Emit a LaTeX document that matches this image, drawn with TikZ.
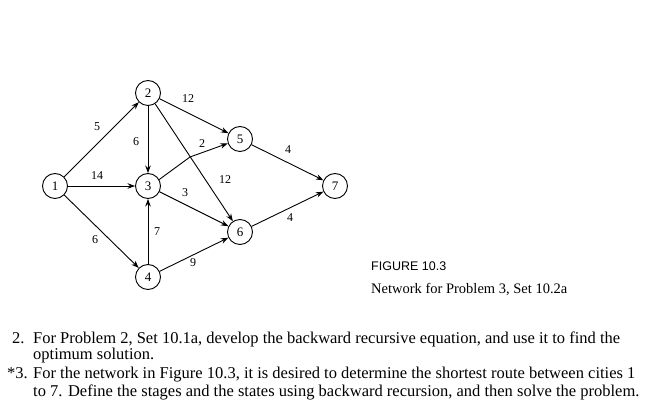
\documentclass[tikz,border=0pt]{standalone}
\usepackage{fontspec}
\setmainfont{Liberation Serif}
\newfontfamily\capsans{Liberation Sans}
\usetikzlibrary{arrows.meta}
\tikzset{
  vertex/.style={circle, draw, line width=0.9pt, minimum size=25pt, inner sep=0pt, font=\fontsize{13}{13}\selectfont},
  arc/.style={-{Stealth[length=7.5pt,width=5.5pt]}, line width=0.9pt},
  wlabel/.style={inner sep=0pt, font=\fontsize{12}{12}\selectfont},
  bodytext/.style={anchor=base west, inner sep=0pt, font=\fontsize{16.5}{16.5}\selectfont},
}
\begin{document}
\begin{tikzpicture}[x=1pt, y=-1pt]
\useasboundingbox (0,0) rectangle (668,419);
% nodes
\node[vertex] (n1) at (55,186) {1};
\node[vertex] (n2) at (148,93) {2};
\node[vertex] (n3) at (148,186) {3};
\node[vertex] (n4) at (148,277) {4};
\node[vertex] (n5) at (240,139) {5};
\node[vertex] (n6) at (240,232) {6};
\node[vertex] (n7) at (335,186) {7};
\coordinate (k) at (190,157);
% arcs
\draw[arc] (n1) -- (n2);
\draw[arc] (n1) -- (n3);
\draw[arc] (n1) -- (n4);
\draw[arc] (n2) -- (n3);
\draw[arc] (n2) -- (n5);
\draw[arc] (n2) -- (n6);
\draw[arc] (n3.30) -- (k) -- (n5);
\draw[arc] (n3) -- (n6);
\draw[arc] (n4) -- (n3);
\draw[arc] (n4) -- (n6);
\draw[arc] (n5) -- (n7);
\draw[arc] (n6) -- (n7);
% weights
\node[wlabel] (w12) at (97,127) {5};
\node[wlabel] (w25) at (188,99) {12};
\node[wlabel] (w23) at (136,142) {6};
\node[wlabel] (w35) at (202,144) {2};
\node[wlabel] (w57) at (288,150) {4};
\node[wlabel] (w13) at (97,176) {14};
\node[wlabel] (w26) at (225,180) {12};
\node[wlabel] (w36) at (185,193) {3};
\node[wlabel] (w43) at (157,232) {7};
\node[wlabel] (w14) at (95,240) {6};
\node[wlabel] (w46) at (193,263) {9};
\node[wlabel] (w67) at (290,218) {4};
% caption
\node[anchor=base west, inner sep=0pt, font=\capsans\fontsize{12.5}{12.5}\selectfont] (cap1) at (371,270) {FIGURE 10.3};
\node[anchor=base west, inner sep=0pt, font=\fontsize{14.5}{14.5}\selectfont] (cap2) at (371,293) {Network for Problem 3, Set 10.2a};
% problems
\node[bodytext] (p2) at (12,343) {2.};
\node[bodytext] (l1) at (33,343) {For Problem 2, Set 10.1a, develop the backward recursive equation, and use it to find the};
\node[bodytext] (l2) at (33,359) {optimum solution.};
\node[bodytext] (p3) at (7,378) {*3.};
\node[bodytext] (l3) at (33,378) {For the network in Figure 10.3, it is desired to determine the shortest route between cities 1};
\node[bodytext] (l4) at (33,396) {to 7. Define the stages and the states using backward recursion, and then solve the problem.};
\end{tikzpicture}
\end{document}
